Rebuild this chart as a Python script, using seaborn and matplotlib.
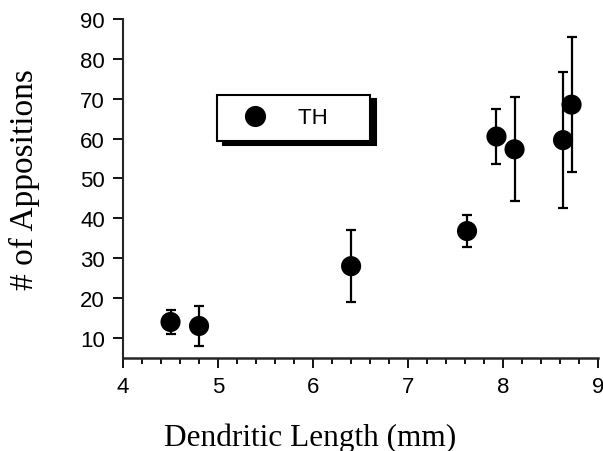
import matplotlib
matplotlib.use("Agg")
import matplotlib.pyplot as plt
import seaborn as sns
import numpy as np
import pandas as pd
from matplotlib.ticker import MultipleLocator

length_mm = [4.5, 4.8, 6.4, 7.62, 7.93, 8.12, 8.63, 8.72]
appositions = [14, 13, 28, 36.8, 60.5, 57.3, 59.6, 68.5]
err = [3, 5, 9, 4, 7, 13, 17, 17]
series = ["TH"] * len(length_mm)
x_ticks = [4, 5, 6, 7, 8, 9]
y_ticks = [10, 20, 30, 40, 50, 60, 70, 80, 90]

df = pd.DataFrame({"x": length_mm, "y": appositions, "err": err, "s": series})

sns.set_style("ticks")
plt.rcParams["text.color"] = "black"
plt.rcParams["axes.labelcolor"] = "black"
plt.rcParams["xtick.color"] = "black"
plt.rcParams["ytick.color"] = "black"

fig = plt.figure(figsize=(6.03, 4.52), dpi=100)
ax = fig.add_axes([0.204, 0.206, 0.788, 0.75])

ax.errorbar(df["x"], df["y"], yerr=df["err"], fmt="none", ecolor="black",
            elinewidth=1.6, capsize=3.5, capthick=1.6, zorder=2)
sns.scatterplot(data=df, x="x", y="y", hue="s", palette={"TH": "black"},
                s=210, edgecolor="black", linewidth=0, ax=ax, zorder=3)

ax.set_xlim(4, 9)
ax.set_ylim(5, 90)
ax.set_xticks(x_ticks)
ax.set_yticks(y_ticks)
ax.xaxis.set_minor_locator(MultipleLocator(0.2))
ax.tick_params(axis="both", which="major", direction="out", length=7, width=1.3,
               labelsize=16, colors="black", pad=6)
ax.tick_params(axis="x", which="minor", direction="out", length=4, width=1.3)
for lab in ax.get_xticklabels() + ax.get_yticklabels():
    lab.set_fontfamily("Liberation Sans")

sns.despine(ax=ax)
ax.spines["left"].set_linewidth(1.5)
ax.spines["bottom"].set_linewidth(1.8)

ax.set_xlabel("Dendritic Length (mm)", fontsize=22.5, fontfamily="Liberation Serif")
ax.set_ylabel("# of Appositions", fontsize=24, fontfamily="Liberation Serif")
ax.xaxis.set_label_coords(0.394, -0.19)
ax.yaxis.set_label_coords(-0.175, 0.53)

leg = ax.legend(loc="upper left", bbox_to_anchor=(0.198, 0.775), frameon=True,
                fancybox=False, edgecolor="black", framealpha=1,
                shadow={"ox": 4, "oy": -3, "color": "black", "alpha": 1},
                prop={"family": "Liberation Sans", "size": 16},
                markerscale=1.05, handletextpad=0.8, borderpad=0.55,
                borderaxespad=0, handlelength=2.27)
leg.get_frame().set_linewidth(1.5)
for t in leg.get_texts():
    t.set_color("black")
    t.set_text(t.get_text() + "\u00a0" * 5)

fig.savefig("out.png", dpi=100)
